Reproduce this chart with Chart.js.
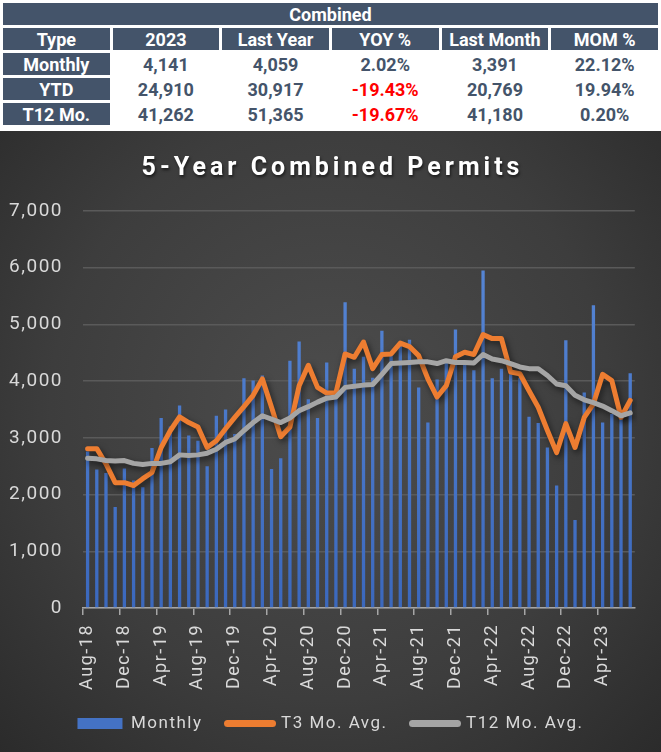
<!DOCTYPE html>
<html>
<head>
<meta charset="utf-8">
<script src="https://cdn.jsdelivr.net/npm/chart.js@4.4.0/dist/chart.umd.min.js"></script>
<style>
  html, body { margin:0; padding:0; background:#fff; }
  body { width:661px; height:752px; overflow:hidden; position:relative; font-family:Roboto, "Noto Sans", sans-serif; }
  #tabla { position:absolute; left:0; top:0; border-collapse:separate; border-spacing:3px; table-layout:fixed; }
  #tabla td { width:107px; height:22px; padding:0; text-align:center; font-weight:bold; font-size:18px; color:#44546A; white-space:nowrap; }
  #tabla td.osc { background:#44546A; color:#fff; }
  #tabla td.rojo { color:#ff0000; }
  #contenedor { position:absolute; left:0; top:131px; width:661px; height:621px;
    background:radial-gradient(ellipse at 50% 45%, #4d4d4d 0%, #3d3d3d 60%, #2b2b2b 100%); }
</style>
</head>
<body>
<table id="tabla">
  <tr><td class="osc" colspan="6">Combined</td></tr>
  <tr><td class="osc">Type</td><td class="osc">2023</td><td class="osc">Last Year</td><td class="osc">YOY %</td><td class="osc">Last Month</td><td class="osc">MOM %</td></tr>
  <tr><td class="osc">Monthly</td><td>4,141</td><td>4,059</td><td>2.02%</td><td>3,391</td><td>22.12%</td></tr>
  <tr><td class="osc">YTD</td><td>24,910</td><td>30,917</td><td class="rojo">-19.43%</td><td>20,769</td><td>19.94%</td></tr>
  <tr><td class="osc">T12 Mo.</td><td>41,262</td><td>51,365</td><td class="rojo">-19.67%</td><td>41,180</td><td>0.20%</td></tr>
</table>
<div id="contenedor"><canvas id="grafica" width="661" height="621"></canvas></div>
<script>
var TITULO = '5-Year Combined Permits';

var meses = ['Aug-18','Sep-18','Oct-18','Nov-18','Dec-18','Jan-19','Feb-19','Mar-19','Apr-19','May-19','Jun-19','Jul-19',
  'Aug-19','Sep-19','Oct-19','Nov-19','Dec-19','Jan-20','Feb-20','Mar-20','Apr-20','May-20','Jun-20','Jul-20',
  'Aug-20','Sep-20','Oct-20','Nov-20','Dec-20','Jan-21','Feb-21','Mar-21','Apr-21','May-21','Jun-21','Jul-21',
  'Aug-21','Sep-21','Oct-21','Nov-21','Dec-21','Jan-22','Feb-22','Mar-22','Apr-22','May-22','Jun-22','Jul-22',
  'Aug-22','Sep-22','Oct-22','Nov-22','Dec-22','Jan-23','Feb-23','Mar-23','Apr-23','May-23','Jun-23','Jul-23'];

var mensual = [2760, 2440, 2380, 1780, 2460, 2250, 2130, 2820, 3350, 3200, 3570, 3040,
  2950, 2500, 3390, 3500, 3070, 4050, 4010, 4100, 2450, 2640, 4360, 4700,
  3680, 3350, 4330, 3700, 5390, 4220, 4430, 4060, 4890, 4490, 4640, 4730,
  3890, 3270, 4030, 4350, 4910, 4310, 4190, 5950, 4050, 4220, 4120, 4059,
  3370, 3260, 2830, 2160, 4720, 1550, 3800, 5340, 3270, 3420, 3391, 4141];

var promedioT3 = [2810, 2810, 2540, 2210, 2210, 2160, 2280, 2390, 2830, 3130, 3370, 3270,
  3190, 2830, 2950, 3160, 3360, 3550, 3750, 4040, 3540, 3020, 3190, 3920,
  4280, 3890, 3790, 3790, 4480, 4420, 4690, 4220, 4470, 4480, 4670, 4610,
  4450, 4040, 3720, 3920, 4430, 4510, 4470, 4820, 4750, 4750, 4160, 4130,
  3830, 3540, 3130, 2740, 3250, 2830, 3360, 3600, 4120, 4010, 3360, 3660];

var promedioT12 = [2640, 2630, 2600, 2590, 2600, 2550, 2530, 2550, 2550, 2580, 2700, 2690,
  2700, 2730, 2800, 2920, 2980, 3130, 3270, 3390, 3330, 3270, 3350, 3480,
  3550, 3630, 3700, 3720, 3890, 3910, 3930, 3940, 4120, 4310, 4320, 4330,
  4340, 4340, 4310, 4360, 4330, 4330, 4320, 4470, 4390, 4360, 4310, 4250,
  4220, 4220, 4100, 3950, 3920, 3750, 3670, 3620, 3560, 3480, 3390, 3440];

Chart.defaults.font.family = 'Roboto';
Chart.defaults.color = '#d9d9d9';

// espaciado de letras, sombra de las lineas y titulo
var extras = {
  id: 'extras',
  beforeUpdate: function(chart) {
    chart.ctx.letterSpacing = '1.5px';
  },
  beforeDatasetDraw: function(chart, args) {
    if (args.meta.type === 'line') {
      var ctx = chart.ctx;
      ctx.save();
      ctx.shadowColor = 'rgba(0,0,0,0.55)';
      ctx.shadowBlur = 6;
      ctx.shadowOffsetX = 2;
      ctx.shadowOffsetY = 3;
    }
  },
  afterDatasetDraw: function(chart, args) {
    if (args.meta.type === 'line') {
      chart.ctx.restore();
    }
  },
  afterDraw: function(chart) {
    var ctx = chart.ctx;
    ctx.save();
    ctx.letterSpacing = '4px';
    ctx.font = 'bold 25px Roboto';
    ctx.fillStyle = '#ffffff';
    ctx.textAlign = 'center';
    ctx.textBaseline = 'middle';
    ctx.shadowColor = 'rgba(0,0,0,0.6)';
    ctx.shadowBlur = 3;
    ctx.shadowOffsetX = 1;
    ctx.shadowOffsetY = 2;
    ctx.fillText(TITULO, chart.width / 2 + 2, 38);
    ctx.restore();
  }
};

function colorBarra(context) {
  var area = context.chart.chartArea;
  if (!area) {
    return '#4472C4';
  }
  var g = context.chart.ctx.createLinearGradient(0, area.top, 0, area.bottom);
  g.addColorStop(0, '#5a8ad8');
  g.addColorStop(1, '#3b68bd');
  return g;
}

var ctx = document.getElementById('grafica').getContext('2d');
var chart = new Chart(ctx, {
  type: 'bar',
  data: {
    labels: meses,
    datasets: [{
      label: 'Monthly',
      data: mensual,
      backgroundColor: colorBarra,
      barPercentage: 0.36,
      categoryPercentage: 1,
      order: 3
    }, {
      type: 'line',
      label: 'T3 Mo. Avg.',
      data: promedioT3,
      borderColor: '#ED7D31',
      backgroundColor: '#ED7D31',
      borderWidth: 5,
      pointRadius: 0,
      tension: 0,
      borderJoinStyle: 'round',
      borderCapStyle: 'round',
      order: 2
    }, {
      type: 'line',
      label: 'T12 Mo. Avg.',
      data: promedioT12,
      borderColor: '#A5A5A5',
      backgroundColor: '#A5A5A5',
      borderWidth: 5,
      pointRadius: 0,
      tension: 0,
      borderJoinStyle: 'round',
      borderCapStyle: 'round',
      order: 1
    }]
  },
  options: {
    responsive: false,
    animation: false,
    devicePixelRatio: 1,
    layout: { padding: { top: 80, right: 0, bottom: 10, left: 0 } },
    plugins: {
      title: { display: false },
      tooltip: { enabled: false },
      legend: {
        position: 'bottom',
        labels: {
          color: '#d9d9d9',
          font: { size: 17 },
          usePointStyle: true,
          pointStyleWidth: 45,
          boxHeight: 11,
          padding: 25,
          sort: function(a, b) { return a.datasetIndex - b.datasetIndex; },
          generateLabels: function(chart) {
            var items = Chart.defaults.plugins.legend.labels.generateLabels(chart);
            items.forEach(function(it) {
              if (it.datasetIndex === 0) {
                it.pointStyle = 'rect';
                it.fillStyle = '#4472C4';
                it.lineWidth = 0;
              } else {
                it.pointStyle = 'line';
                it.lineWidth = 7;
                it.lineCap = 'round';
              }
            });
            return items;
          }
        }
      }
    },
    scales: {
      x: {
        grid: {
          offset: true,
          drawOnChartArea: false,
          tickLength: 7,
          lineWidth: 1.5,
          color: function(c) { return c.index % 4 === 0 ? '#a6a6a6' : 'rgba(0,0,0,0)'; }
        },
        border: { color: '#a6a6a6', width: 1.5 },
        ticks: {
          autoSkip: false,
          maxRotation: 90,
          minRotation: 90,
          color: '#d9d9d9',
          font: { size: 18 },
          padding: 9,
          callback: function(v, i) { return i % 4 === 0 ? this.getLabelForValue(v) : ''; }
        },
        afterFit: function(s) { s.height = 82; }
      },
      y: {
        min: 0,
        max: 7000,
        ticks: {
          stepSize: 1000,
          color: '#d9d9d9',
          font: { size: 19 },
          padding: 20,
          callback: function(v) { return v.toLocaleString('en-US'); }
        },
        grid: { color: '#5a5a5a', lineWidth: 1.5, drawTicks: false },
        border: { display: false },
        afterFit: function(s) { s.width = 83; }
      },
      // eje vacio a la derecha para dejar el margen y centrar la leyenda
      margen: {
        position: 'right',
        grid: { display: false },
        ticks: { display: false },
        border: { display: false },
        afterFit: function(s) { s.width = 23; }
      }
    }
  },
  plugins: [extras]
});
</script>
</body>
</html>
